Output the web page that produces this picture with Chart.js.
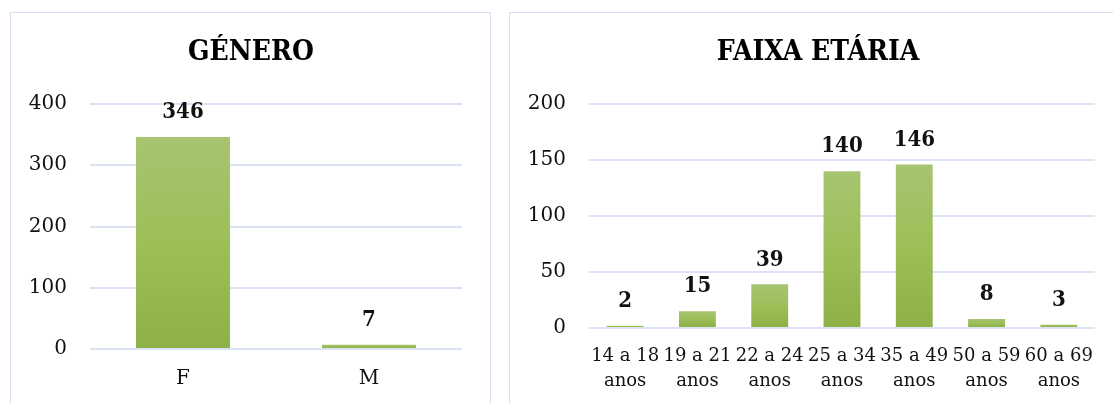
<!DOCTYPE html>
<html lang="pt">
<head>
<meta charset="utf-8">
<title>Género e Faixa Etária</title>
<script src="https://cdn.jsdelivr.net/npm/chart.js@4.4.1/dist/chart.umd.min.js"></script>
<style>
    html, body { margin: 0; padding: 0; background: #fff; overflow: hidden; width: 1113px; height: 403px; }
    .painel {
        position: absolute;
        box-sizing: border-box;
        border: 1.5px solid #d5e0f1;
        background: #fff;
    }
    #painelGenero { left: 10px; top: 12px; width: 481px; height: 400px; }
    #painelFaixa { left: 509px; top: 12px; width: 620px; height: 400px; }
    canvas { position: absolute; left: 0; top: 0; }
</style>
</head>
<body>
<div class="painel" id="painelGenero"><canvas id="generoChart" width="480" height="391"></canvas></div>
<div class="painel" id="painelFaixa"><canvas id="faixaChart" width="612" height="391"></canvas></div>

<script>
// Dados
const generoLabels = ['F', 'M'];
const generoValores = [346, 7];
const generoMax = 400;
const generoPasso = 100;

const faixaLabels = [
    ['14 a 18', 'anos'], ['19 a 21', 'anos'], ['22 a 24', 'anos'], ['25 a 34', 'anos'],
    ['35 a 49', 'anos'], ['50 a 59', 'anos'], ['60 a 69', 'anos']
];
const faixaValores = [2, 15, 39, 140, 146, 8, 3];
const faixaMax = 200;
const faixaPasso = 50;

const fonteTexto = "'DejaVu Serif', 'Liberation Serif', serif";
const fonteNegrito = "'DejaVu Serif Condensed', 'DejaVu Serif', serif";

// Degradê por barra (claro em cima, mais escuro em baixo)
const pluginDegrade = {
    id: 'degrade',
    beforeDatasetsDraw(chart) {
        const ctx = chart.ctx;
        chart.getDatasetMeta(0).data.forEach(barra => {
            const g = ctx.createLinearGradient(0, barra.y, 0, barra.base);
            g.addColorStop(0, '#a7c471');
            g.addColorStop(0.5, '#9cbf58');
            g.addColorStop(1, '#8db047');
            // cada barra precisa do seu próprio objeto de opções
            barra.options = Object.assign({}, barra.options, { backgroundColor: g });
        });
    }
};

// Rótulos com os valores por cima das barras
const pluginValores = {
    id: 'valores',
    afterDatasetsDraw(chart) {
        const ctx = chart.ctx;
        const valores = chart.data.datasets[0].data;
        ctx.save();
        ctx.font = 'bold 22px ' + fonteNegrito;
        ctx.fillStyle = '#111';
        ctx.textAlign = 'center';
        ctx.textBaseline = 'middle';
        chart.getDatasetMeta(0).data.forEach((barra, i) => {
            ctx.fillText(String(valores[i]), barra.x, barra.y - 24.5);
        });
        ctx.restore();
    }
};

// Título centrado no painel (e não na área do gráfico)
const pluginTitulo = {
    id: 'titulo',
    afterDraw(chart, args, opts) {
        const ctx = chart.ctx;
        ctx.save();
        ctx.font = 'bold 28px ' + fonteNegrito;
        ctx.fillStyle = '#000';
        ctx.textAlign = 'center';
        ctx.textBaseline = 'middle';
        ctx.fillText(opts.texto, opts.x, 40);
        ctx.restore();
    }
};

function criarGrafico(id, titulo, labels, valores, max, passo, opcoesX) {
    const ctx = document.getElementById(id).getContext('2d');
    return new Chart(ctx, {
        type: 'bar',
        data: {
            labels: labels,
            datasets: [{
                data: valores,
                backgroundColor: '#9cbf58',
                borderWidth: 0,
                barPercentage: opcoesX.barPercentage,
                categoryPercentage: 1
            }]
        },
        options: {
            responsive: false,
            animation: false,
            layout: { padding: { left: 0, right: opcoesX.direita, top: 91, bottom: 0 } },
            plugins: {
                legend: { display: false },
                tooltip: { enabled: false },
                titulo: { texto: titulo, x: opcoesX.centroTitulo }
            },
            scales: {
                x: {
                    grid: { display: false, drawTicks: false },
                    border: { display: false },
                    ticks: {
                        color: '#111',
                        padding: opcoesX.padding,
                        maxRotation: 0,
                        autoSkip: false,
                        font: { family: fonteTexto, size: opcoesX.tamanho, lineHeight: opcoesX.alturaLinha }
                    },
                    afterFit(escala) { escala.height = opcoesX.altura; }
                },
                y: {
                    min: 0,
                    max: max,
                    grid: { color: '#d9e3f3', lineWidth: 2, drawTicks: false },
                    border: { display: false },
                    ticks: {
                        stepSize: passo,
                        color: '#111',
                        padding: 23,
                        font: { family: fonteTexto, size: 20 }
                    },
                    afterFit(escala) { escala.width = 79; }
                }
            }
        },
        plugins: [pluginDegrade, pluginValores, pluginTitulo]
    });
}

criarGrafico('generoChart', 'GÉNERO', generoLabels, generoValores, generoMax, generoPasso,
    { barPercentage: 0.505, direita: 29, centroTitulo: 240, padding: 18, tamanho: 20, alturaLinha: 1.2, altura: 55 });

criarGrafico('faixaChart', 'FAIXA ETÁRIA', faixaLabels, faixaValores, faixaMax, faixaPasso,
    { barPercentage: 0.51, direita: 27, centroTitulo: 308, padding: 15.5, tamanho: 18, alturaLinha: 25 / 18, altura: 76 });
</script>
</body>
</html>
